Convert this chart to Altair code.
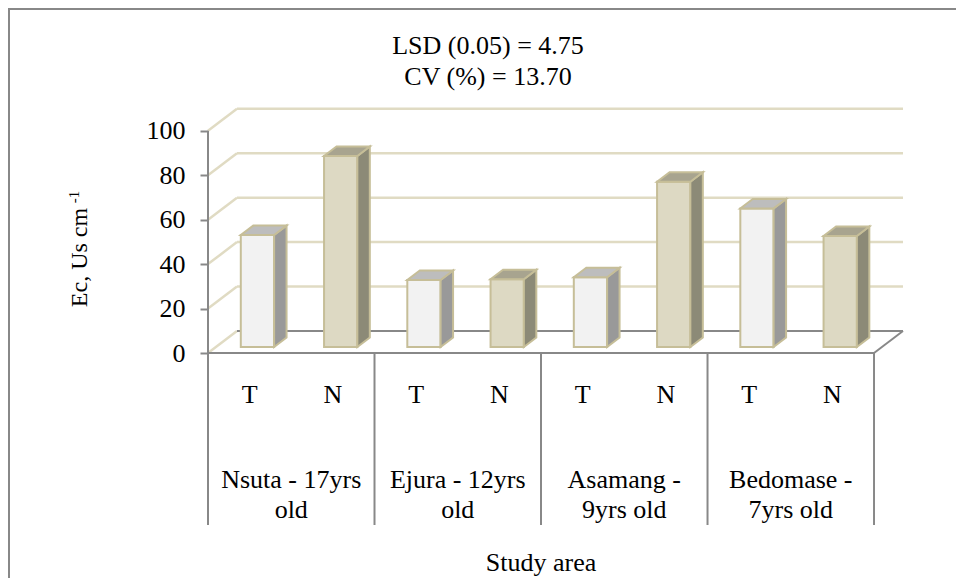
import altair as alt
import pandas as pd

# ---- data -------------------------------------------------------------
sites = ["Nsuta - 17yrs\nold", "Ejura - 12yrs\nold", "Asamang -\n9yrs old", "Bedomase -\n7yrs old"]
treatments = ["T", "N"]
ec_t = [50.4, 30.2, 31.4, 62.4]
ec_n = [86.0, 30.5, 74.4, 50.0]
y_ticks = [0, 20, 40, 60, 80, 100]
stats_lines = ["LSD (0.05) = 4.75", "CV (%) = 13.70"]
x_title = "Study area"
y_title = "Ec, Us cm"
y_title_sup = "-1"

# ---- styling / 3-D projection ------------------------------------------
SERIF = "Liberation Serif, Times New Roman, DejaVu Serif, serif"
GRID = "#e0dbc3"
AXIS_GRAY = "#888888"
EDGE = "#c6be98"
FRONT = {"T": "#f2f2f2", "N": "#ddd9c3"}
SIDE = {"T": "#999999", "N": "#8c8a77"}
TOP = {"T": "#bdbdbd", "N": "#a8a48f"}

N_SLOTS = len(sites) * len(treatments)
DX = 0.348          # floor depth, in category slots
DY = 9.9            # floor depth, in Ec units
F0, F1 = 0.27, 0.70 # front / back of the columns as a fraction of the depth
HALF = 0.2          # half column width, in slots
X_MAX = N_SLOTS + DX
Y_MIN, Y_MAX = -77.4, 109.8
SLOT_PX = 83.25
PX_PER_UNIT = 2.2222

XS = alt.Scale(domain=[0, X_MAX], nice=False, zero=False)
YS = alt.Scale(domain=[Y_MIN, Y_MAX], nice=False, zero=False)
Y_AXIS = alt.Axis(values=y_ticks, title=None, domain=False, grid=False,
                  tickSize=8, tickWidth=2, tickColor=AXIS_GRAY,
                  labelFont=SERIF, labelFontSize=26, labelColor="black",
                  labelPadding=15)


def X(f):
    return alt.X(f, type="quantitative", scale=XS, axis=None)


def Y(f):
    return alt.Y(f, type="quantitative", scale=YS, axis=Y_AXIS)


def fill(palette):
    return alt.Fill("trt:N", scale=alt.Scale(domain=treatments,
                                             range=[palette[t] for t in treatments]),
                    legend=None)


# ---- derived tables ----------------------------------------------------
rows = []
for g, site in enumerate(sites):
    for j, (trt, vals) in enumerate(zip(treatments, [ec_t, ec_n])):
        rows.append(dict(id=f"{g}{trt}", site=site, trt=trt, slot=2 * g + j, value=vals[g]))
bars = pd.DataFrame(rows)
bars["xl"] = bars.slot + 0.5 - HALF + F0 * DX
bars["xr"] = bars.slot + 0.5 + HALF + F0 * DX
bars["y0"] = F0 * DY
bars["y1"] = bars.value + F0 * DY
ddx, ddy = (F1 - F0) * DX, (F1 - F0) * DY

side_rows, top_rows = [], []
for b in bars.itertuples():
    side_rows += [dict(id=b.id, trt=b.trt, x=b.xr, lo=b.y0, hi=b.y1),
                  dict(id=b.id, trt=b.trt, x=b.xr + ddx, lo=b.y0 + ddy, hi=b.y1 + ddy)]
    top_rows += [dict(id=b.id, trt=b.trt, y=b.y1, a=b.xl, b=b.xr),
                 dict(id=b.id, trt=b.trt, y=b.y1 + ddy, a=b.xl + ddx, b=b.xr + ddx)]
sides = pd.DataFrame(side_rows)
tops = pd.DataFrame(top_rows)

wall_side = pd.DataFrame({"x0": 0.0, "x1": DX, "y0": y_ticks,
                          "y1": [v + DY for v in y_ticks]})
wall_back = pd.DataFrame({"x0": DX, "x1": N_SLOTS + DX,
                          "y0": [v + DY for v in y_ticks[1:]]})
wall_back["y1"] = wall_back.y0
floor_edges = pd.DataFrame({"x0": [0.0, N_SLOTS, DX], "x1": [N_SLOTS, N_SLOTS + DX, N_SLOTS + DX],
                            "y0": [0.0, 0.0, DY], "y1": [0.0, DY, DY]})
dividers = pd.DataFrame({"x0": [2.0 * g for g in range(len(sites) + 1)]})
dividers["y0"] = Y_MIN
dividers["y1"] = 0.0
front_axis = pd.DataFrame({"x0": [0.0], "y0": [0.0], "y1": [float(y_ticks[-1])]})

trt_labels = bars[["slot", "trt"]].copy()
trt_labels["x"] = trt_labels.slot + 0.5
trt_labels["y"] = -18.9
site_labels = pd.DataFrame({"site": sites, "x": [2 * g + 1.0 for g in range(len(sites))], "y": -57.2})

# ---- layers ------------------------------------------------------------
def rules(df, color, width):
    enc = dict(x=X("x0"), y=Y("y0"), y2=alt.Y2("y1"))
    if "x1" in df:
        enc["x2"] = alt.X2("x1")
    return alt.Chart(df).mark_rule(color=color, strokeWidth=width).encode(**enc)


grid_side = rules(wall_side, GRID, 2.5)
grid_back = rules(wall_back, GRID, 2.5)
floor = rules(floor_edges, AXIS_GRAY, 2)
divs = rules(dividers, AXIS_GRAY, 2)
yline = rules(front_axis, AXIS_GRAY, 2)

fronts = alt.Chart(bars).mark_rect(stroke=EDGE, strokeWidth=2).encode(
    x=X("xl"), x2=alt.X2("xr"), y=Y("y0"), y2=alt.Y2("y1"), fill=fill(FRONT))
side_faces = alt.Chart(sides).mark_area(stroke=EDGE, strokeWidth=2, opacity=1).encode(
    x=X("x"), y=Y("lo"), y2=alt.Y2("hi"), detail="id:N", fill=fill(SIDE))
top_faces = alt.Chart(tops).mark_area(orient="horizontal", stroke=EDGE, strokeWidth=2, opacity=1).encode(
    y=Y("y"), x=X("a"), x2=alt.X2("b"), detail="id:N", fill=fill(TOP))

txt = dict(font=SERIF, fontSize=26, color="black", align="center", baseline="middle")
trt_text = alt.Chart(trt_labels).mark_text(**txt).encode(x=X("x"), y=Y("y"), text="trt:N")
site_text = alt.Chart(site_labels).mark_text(lineBreak="\n", lineHeight=30, **txt).encode(
    x=X("x"), y=Y("y"), text="site:N")
xt = alt.Chart(pd.DataFrame({"t": [x_title], "x": [N_SLOTS / 2], "y": [-94.5]})).mark_text(**txt).encode(
    x=X("x"), y=Y("y"), text="t:N")

# statistics note above the plot, one layer per line
stats = [
    alt.Chart(pd.DataFrame({"t": [line]})).mark_text(**txt).encode(
        x=alt.value(280), y=alt.value(-63 + 31 * i), text="t:N")
    for i, line in enumerate(stats_lines)
]

yt = alt.Chart(pd.DataFrame({"t": [y_title]})).mark_text(
    font=SERIF, fontSize=24, color="black", angle=270, align="center", baseline="middle").encode(
    x=alt.value(-128), y=alt.value(148.5), text="t:N")
yt_sup = alt.Chart(pd.DataFrame({"t": [y_title_sup]})).mark_text(
    font=SERIF, fontSize=15, color="black", angle=270, align="center", baseline="middle").encode(
    x=alt.value(-134), y=alt.value(88), text="t:N")

frame = alt.Chart(pd.DataFrame({"k": [0]})).mark_rect(filled=False, stroke=AXIS_GRAY, strokeWidth=2).encode(
    x=alt.value(-199), x2=alt.value(770), y=alt.value(-100), y2=alt.value(490))

chart = alt.layer(
    frame, grid_side, grid_back, floor, divs, yline,
    fronts, side_faces, top_faces,
    trt_text, site_text, xt, yt, yt_sup, *stats,
).resolve_scale(fill="independent").properties(
    width=round(X_MAX * SLOT_PX),
    height=round((Y_MAX - Y_MIN) * PX_PER_UNIT),
    autosize=alt.AutoSizeParams(type="none"),
    padding={"left": 208, "top": 109, "right": 53, "bottom": 53},
    background="white",
).configure_view(stroke=None)

chart.save("out.html", embed_options={"renderer": "svg", "actions": False})
